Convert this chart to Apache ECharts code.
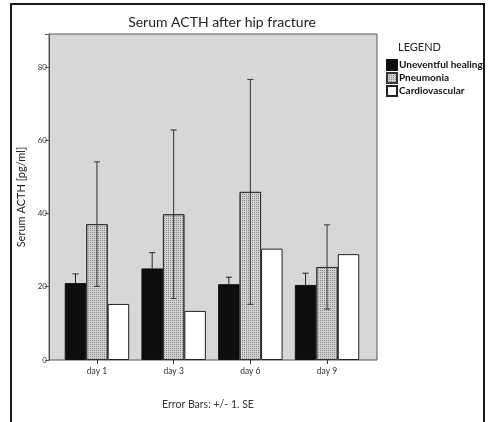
<!DOCTYPE html>
<html><head><meta charset="utf-8">
<script src="https://cdn.jsdelivr.net/npm/echarts@6/dist/echarts.min.js"></script>
<style>html,body{margin:0;padding:0;background:#fff}#c{width:490px;height:422px}</style>
</head><body><div id="c"></div>
<script>
const categories = ['day 1', 'day 3', 'day 6', 'day 9'];
const seriesNames = ['Uneventful healing', 'Pneumonia', 'Cardiovascular'];
const healing = [21.0, 25.0, 20.7, 20.5];
const healingSE = [2.5, 4.3, 1.9, 3.2];
const pneumonia = [37.1, 39.8, 45.9, 25.4];
const pneumoniaSE = [17.0, 23.0, 30.7, 11.5];
const cardiovascular = [15.3, 13.4, 30.4, 28.9];
const yTicks = [0, 20, 40, 60, 80];

const FONT = 'Lato';
const YMAX = 89;
const BARW = 0.28;

function errSeries(name, means, ses, slot, color, upperOnly) {
  return {
    type: 'custom', name: name + ' SE', xAxisIndex: 1, yAxisIndex: 1, z: 5,
    silent: true,
    data: means.map((m, i) => [i, m, ses[i]]),
    renderItem: function (params, api) {
      const i = api.value(0), m = api.value(1), se = api.value(2);
      const band = api.size([1, 0])[0];
      const off = slot * band * BARW;
      const top = api.coord([i, m + se]);
      const bot = api.coord([i, upperOnly ? m : m - se]);
      const x = top[0] + off;
      const cw = 3;
      const st = { stroke: color, lineWidth: 1 };
      const kids = [
        { type: 'line', shape: { x1: x, y1: top[1], x2: x, y2: bot[1] }, style: st },
        { type: 'line', shape: { x1: x - cw, y1: top[1], x2: x + cw, y2: top[1] }, style: st }
      ];
      if (!upperOnly) kids.push({ type: 'line', shape: { x1: x - cw, y1: bot[1], x2: x + cw, y2: bot[1] }, style: st });
      return { type: 'group', children: kids };
    }
  };
}

const chart = echarts.init(document.getElementById('c'), null, { renderer: 'canvas' });
chart.setOption({
  animation: false,
  backgroundColor: '#fff',
  textStyle: { fontFamily: FONT },
  graphic: [{
    type: 'rect', shape: { x: 11, y: 4, width: 473, height: 430 },
    style: { fill: 'none', stroke: '#1a1a1a', lineWidth: 2 }, z: -10
  }],
  title: [
    { text: 'Serum ACTH after hip fracture', left: 217, top: 10, textAlign: 'center',
      textStyle: { fontFamily: FONT, fontSize: 14, fontWeight: 'normal', color: '#222' } },
    { text: 'LEGEND', left: 393, top: 37,
      textStyle: { fontFamily: FONT, fontSize: 11, fontWeight: 'normal', color: '#222' } },
    { text: 'Error Bars: +/- 1. SE', left: 203, top: 394, textAlign: 'center',
      textStyle: { fontFamily: FONT, fontSize: 10.5, fontWeight: 'normal', color: '#333' } }
  ],
  legend: {
    orient: 'vertical', left: 381, top: 54, itemWidth: 10, itemHeight: 10, itemGap: 1,
    icon: 'rect', data: seriesNames,
    textStyle: { fontFamily: FONT, fontSize: 10, fontWeight: 'bold', color: '#111', padding: [0, 0, 0, -3] }
  },
  grid: [
    { left: 49, width: 328, top: 34, height: 326, show: true, backgroundColor: '#d7d7d7',
      borderColor: '#555', borderWidth: 1 },
    { left: 58.6, width: 306.8, top: 34, height: 326 }
  ],
  xAxis: [
    { gridIndex: 0, type: 'value', min: 0, max: 1, show: false },
    { gridIndex: 1, type: 'category', data: categories,
      axisLine: { show: false },
      axisTick: { show: true, alignWithLabel: true, length: 4, lineStyle: { color: '#333' } },
      axisLabel: { fontFamily: FONT, fontSize: 8.5, color: '#333', margin: 7 } }
  ],
  yAxis: [
    { gridIndex: 0, type: 'value', min: 0, max: YMAX, interval: 20,
      name: 'Serum ACTH [pg/ml]', nameLocation: 'middle', nameGap: 19,
      nameTextStyle: { fontFamily: FONT, fontSize: 11, color: '#222' },
      axisLine: { show: true, lineStyle: { color: '#555' } },
      axisTick: { show: true, length: 4, lineStyle: { color: '#555' } },
      axisLabel: { fontFamily: FONT, fontSize: 8, color: '#333', margin: 2,
        formatter: v => (yTicks.indexOf(v) >= 0 ? String(v) : '') },
      splitLine: { show: false } },
    { gridIndex: 1, type: 'value', min: 0, max: YMAX, show: false, splitLine: { show: false } }
  ],
  series: [
    { name: seriesNames[0], type: 'bar', xAxisIndex: 1, yAxisIndex: 1, data: healing,
      barWidth: (BARW * 100) + '%', barGap: '0%',
      itemStyle: { color: '#0d0d0d', borderColor: '#111', borderWidth: 1 } },
    { name: seriesNames[1], type: 'bar', xAxisIndex: 1, yAxisIndex: 1, data: pneumonia,
      barWidth: (BARW * 100) + '%', barGap: '0%',
      itemStyle: { color: '#d2d2d2', borderColor: '#333', borderWidth: 1,
        decal: { symbol: 'rect', symbolSize: 1, dashArrayX: [1, 1], dashArrayY: [1, 1], color: '#888888' } } },
    { name: seriesNames[2], type: 'bar', xAxisIndex: 1, yAxisIndex: 1, data: cardiovascular,
      barWidth: (BARW * 100) + '%', barGap: '0%',
      itemStyle: { color: '#ffffff', borderColor: '#222', borderWidth: 1 } },
    errSeries(seriesNames[0], healing, healingSE, -1, '#222', true),
    errSeries(seriesNames[1], pneumonia, pneumoniaSE, 0, '#333', false)
  ]
});
</script></body></html>
